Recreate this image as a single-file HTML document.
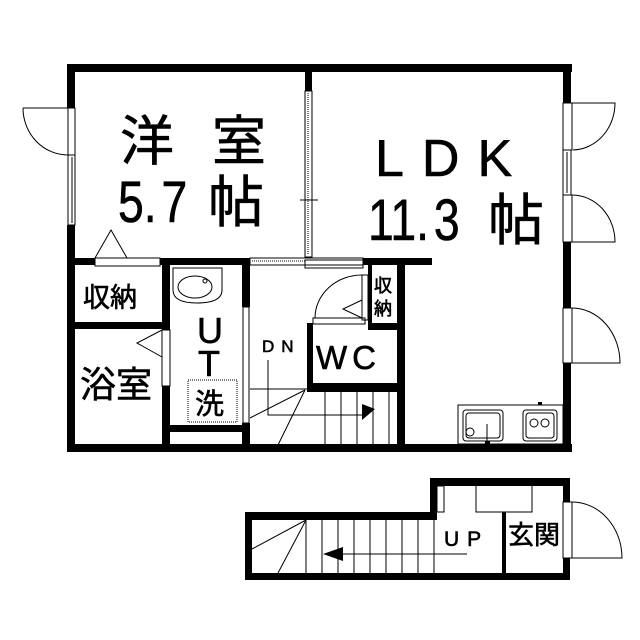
<!DOCTYPE html>
<html><head><meta charset="utf-8"><style>
html,body{margin:0;padding:0;background:#fff;}
svg{display:block}
text{font-family:"Liberation Sans","Noto Sans CJK JP",sans-serif;fill:#000;stroke:#000;stroke-width:0.6}
</style></head><body>
<svg width="640" height="640" viewBox="0 0 640 640" xmlns="http://www.w3.org/2000/svg">
<g fill="#000">
<rect x="67" y="64" width="505" height="8"/>
<rect x="67" y="64" width="8" height="44"/>
<rect x="67" y="225" width="8" height="227"/>
<rect x="67" y="444" width="505" height="8"/>
<rect x="563" y="64" width="8" height="39"/>
<rect x="563" y="242" width="8" height="66"/>
<rect x="563" y="363" width="8" height="89"/>
<rect x="305" y="64" width="7" height="27"/>
<rect x="67" y="258" width="28" height="7"/>
<rect x="160" y="258" width="90" height="7"/>
<rect x="363" y="258" width="69" height="7"/>
<rect x="67" y="322" width="100" height="7"/>
<rect x="162" y="258" width="8" height="72"/>
<rect x="162" y="386" width="8" height="66"/>
<rect x="242" y="258" width="8" height="49"/>
<rect x="242" y="423" width="8" height="29"/>
<rect x="168" y="425" width="82" height="7"/>
<rect x="307" y="323" width="6" height="69"/>
<rect x="307" y="383" width="96" height="9"/>
<rect x="368" y="323" width="35" height="7"/>
<rect x="397" y="258" width="8" height="194"/>
<rect x="368" y="265" width="4" height="58"/>
<rect x="245" y="512" width="192" height="8"/>
<rect x="245" y="512" width="7" height="68"/>
<rect x="245" y="573" width="325" height="7"/>
<rect x="430" y="478" width="140" height="8"/>
<rect x="430" y="478" width="7" height="42"/>
<rect x="563" y="478" width="7" height="24"/>
<rect x="563" y="558" width="7" height="22"/>
<rect x="502" y="512" width="4" height="64"/>
</g>
<g fill="none" stroke="#000" stroke-width="1">
<rect x="68" y="108" width="7" height="47"/>
<rect x="68" y="155" width="7" height="70"/>
<line x1="72" y1="157" x2="72" y2="223"/>
<path d="M23 108 L68 108 M23 108 A45 47 0 0 0 68 155"/>
<rect x="305" y="91" width="7" height="166"/>
<line x1="308" y1="93" x2="308" y2="255" stroke-dasharray="1 1"/>
<line x1="300" y1="200" x2="318" y2="200"/>
<rect x="563" y="103" width="9" height="47"/>
<path d="M572 103 L615 103 A43 47 0 0 1 573 150"/>
<rect x="563" y="150" width="8" height="45"/>
<line x1="567" y1="152" x2="567" y2="193"/>
<rect x="563" y="195" width="9" height="47"/>
<path d="M572 195 A43 47 0 0 1 615 242 L572 242"/>
<rect x="563" y="308" width="9" height="55"/>
<path d="M572 308 A48 55 0 0 1 620 363 L572 363"/>
<rect x="95" y="258" width="65" height="8"/>
<path d="M95 258 L111 230 L127 258"/>
<rect x="250" y="258" width="113" height="7"/>
<line x1="252" y1="261" x2="305" y2="261" stroke-dasharray="1 1"/>
<rect x="305" y="260" width="58" height="8"/>
<rect x="162" y="330" width="8" height="56"/>
<path d="M162 330 L137 343 L162 357"/>
<rect x="243" y="307" width="6" height="116"/>
<path d="M173 268 L222 268 L222 290 Q222 303 197 303 Q173 303 173 290 Z"/>
<ellipse cx="195" cy="287" rx="17" ry="11"/>
<circle cx="205" cy="281" r="2"/>
<rect x="188" y="380" width="49" height="42" stroke-dasharray="1 1"/>
<rect x="313" y="318" width="52" height="6"/>
<rect x="362" y="275" width="6" height="45"/>
<path d="M315 318 A47 43 0 0 1 362 275"/>
<path d="M362 300 L343 309 L362 318"/>
<line x1="250" y1="389" x2="307" y2="389"/>
<line x1="250" y1="418" x2="305" y2="390"/>
<line x1="277" y1="447" x2="305" y2="390"/>
<line x1="325" y1="392" x2="325" y2="444"/>
<line x1="341" y1="392" x2="341" y2="444"/>
<line x1="357" y1="392" x2="357" y2="444"/>
<line x1="373" y1="392" x2="373" y2="444"/>
<line x1="389" y1="392" x2="389" y2="444"/>
<path d="M268 360 L268 415 L365 415"/>
<rect x="458" y="405" width="105" height="39"/>
<rect x="463" y="410" width="40" height="31" rx="3"/>
<rect x="466" y="413" width="34" height="25" rx="3"/>
<circle cx="470" cy="432" r="4"/>
<line x1="487" y1="424" x2="487" y2="441"/>
<rect x="523" y="410" width="34" height="31" rx="3"/>
<rect x="526" y="413" width="28" height="25" rx="3"/>
<circle cx="534" cy="423" r="4"/>
<circle cx="545" cy="423" r="4"/>
<line x1="252" y1="549" x2="306" y2="520"/>
<line x1="278" y1="573" x2="306" y2="520"/>
<line x1="306" y1="520" x2="306" y2="573"/>
<line x1="322" y1="520" x2="322" y2="573"/>
<line x1="338" y1="520" x2="338" y2="573"/>
<line x1="354" y1="520" x2="354" y2="573"/>
<line x1="370" y1="520" x2="370" y2="573"/>
<line x1="386" y1="520" x2="386" y2="573"/>
<line x1="402" y1="520" x2="402" y2="573"/>
<line x1="418" y1="520" x2="418" y2="573"/>
<line x1="434" y1="520" x2="434" y2="573"/>
<path d="M467 554 L340 554"/>
<rect x="437" y="486" width="7" height="26"/>
<path d="M476 486 L476 512 L532 512 L532 486"/>
<rect x="563" y="502" width="9" height="56"/>
<path d="M572 502 A50 56 0 0 1 622 558 L572 558"/>
</g>
<g fill="#000">
<path d="M375 409 L362 404 L362 420 Z"/>
<path d="M323 554 L343 547 L343 561 Z"/>
<rect x="398" y="324" width="3" height="3"/>
<rect x="485" y="441" width="5" height="4"/>
<rect x="538" y="402" width="4" height="3"/>
</g>
<text x="120" y="160" font-size="54">洋</text>
<text x="212" y="160" font-size="54">室</text>
<text x="118" y="222" font-size="58" transform="translate(118 0) scale(0.8 1) translate(-118 0)">5.<tspan dx="6">7</tspan></text>
<text x="208" y="222" font-size="56">帖</text>
<text x="375" y="176" font-size="52" letter-spacing="18">LDK</text>
<text x="368" y="240" font-size="58" transform="translate(368 0) scale(0.8 1) translate(-368 0)">11.<tspan dx="6">3</tspan></text>
<text x="488" y="240" font-size="56">帖</text>
<text x="83" y="307" font-size="27">収納</text>
<text x="80" y="397" font-size="36">浴室</text>
<text x="197" y="343" font-size="36">U</text>
<text x="198" y="376" font-size="36">T</text>
<text x="195" y="414" font-size="29">洗</text>
<text x="262" y="352" font-size="17" letter-spacing="7">DN</text>
<text x="316" y="369" font-size="33" letter-spacing="5">WC</text>
<text x="374" y="292" font-size="18">収</text>
<text x="374" y="315" font-size="18">納</text>
<text x="444" y="546" font-size="21" letter-spacing="8">UP</text>
<text x="508" y="544" font-size="26">玄関</text>
</svg>
</body></html>
